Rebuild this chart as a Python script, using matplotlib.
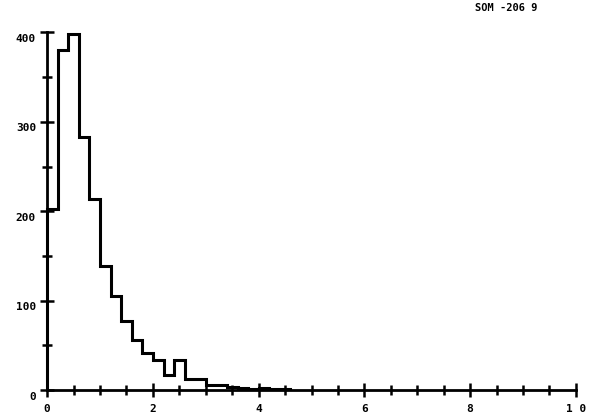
import numpy as np
import matplotlib.pyplot as plt
from matplotlib.transforms import ScaledTranslation

# bin edges (width 0.2) and counts per bin
bin_edges = np.round(np.arange(0, 4.61, 0.2), 2)
counts = [203, 380, 398, 283, 214, 139, 105, 77, 56, 42, 34, 17, 34,
          13, 13, 6, 6, 3, 2, 1, 2, 1, 1]

x_major = [0, 2, 4, 6, 8, 10]
x_minor = np.arange(0, 10.01, 0.5)
y_major = [0, 100, 200, 300, 400]
y_minor = np.arange(0, 401, 50)
tag = "SOM -206 9"

plt.rcParams['font.family'] = 'DejaVu Sans Mono'

fig = plt.figure(figsize=(5.9, 4.2), dpi=100)
ax = fig.add_axes([0.08, 0.071, 0.896, 0.852])

ax.stairs(counts, bin_edges, baseline=0, color='black', lw=2.2, clip_on=False)

ax.set_xlim(0, 10)
ax.set_ylim(0, 400)
for side in ['top', 'right']:
    ax.spines[side].set_visible(False)
for side in ['left', 'bottom']:
    ax.spines[side].set_linewidth(2.0)

ax.set_xticks(x_major)
ax.set_xticks(x_minor, minor=True)
ax.set_yticks(y_major)
ax.set_yticks(y_minor, minor=True)
ax.tick_params(which='major', direction='inout', length=10, width=1.8,
               labelsize=8)
ax.tick_params(which='minor', direction='inout', length=7, width=1.8)
ax.tick_params(axis='x', pad=5)
ax.tick_params(axis='y', pad=3)
ax.set_xticklabels([str(v) if v < 10 else '1 0' for v in x_major],
                   fontweight='bold')
ax.set_yticklabels([str(v) for v in y_major], fontweight='bold')

# y labels sit a little below their ticks
shift = ScaledTranslation(0, -4 / 72, fig.dpi_scale_trans)
for lab in ax.get_yticklabels():
    lab.set_transform(lab.get_transform() + shift)

fig.text(0.805, 0.981, tag, fontsize=7.5, fontweight='bold', va='center')

plt.savefig('out.png', dpi=100)
